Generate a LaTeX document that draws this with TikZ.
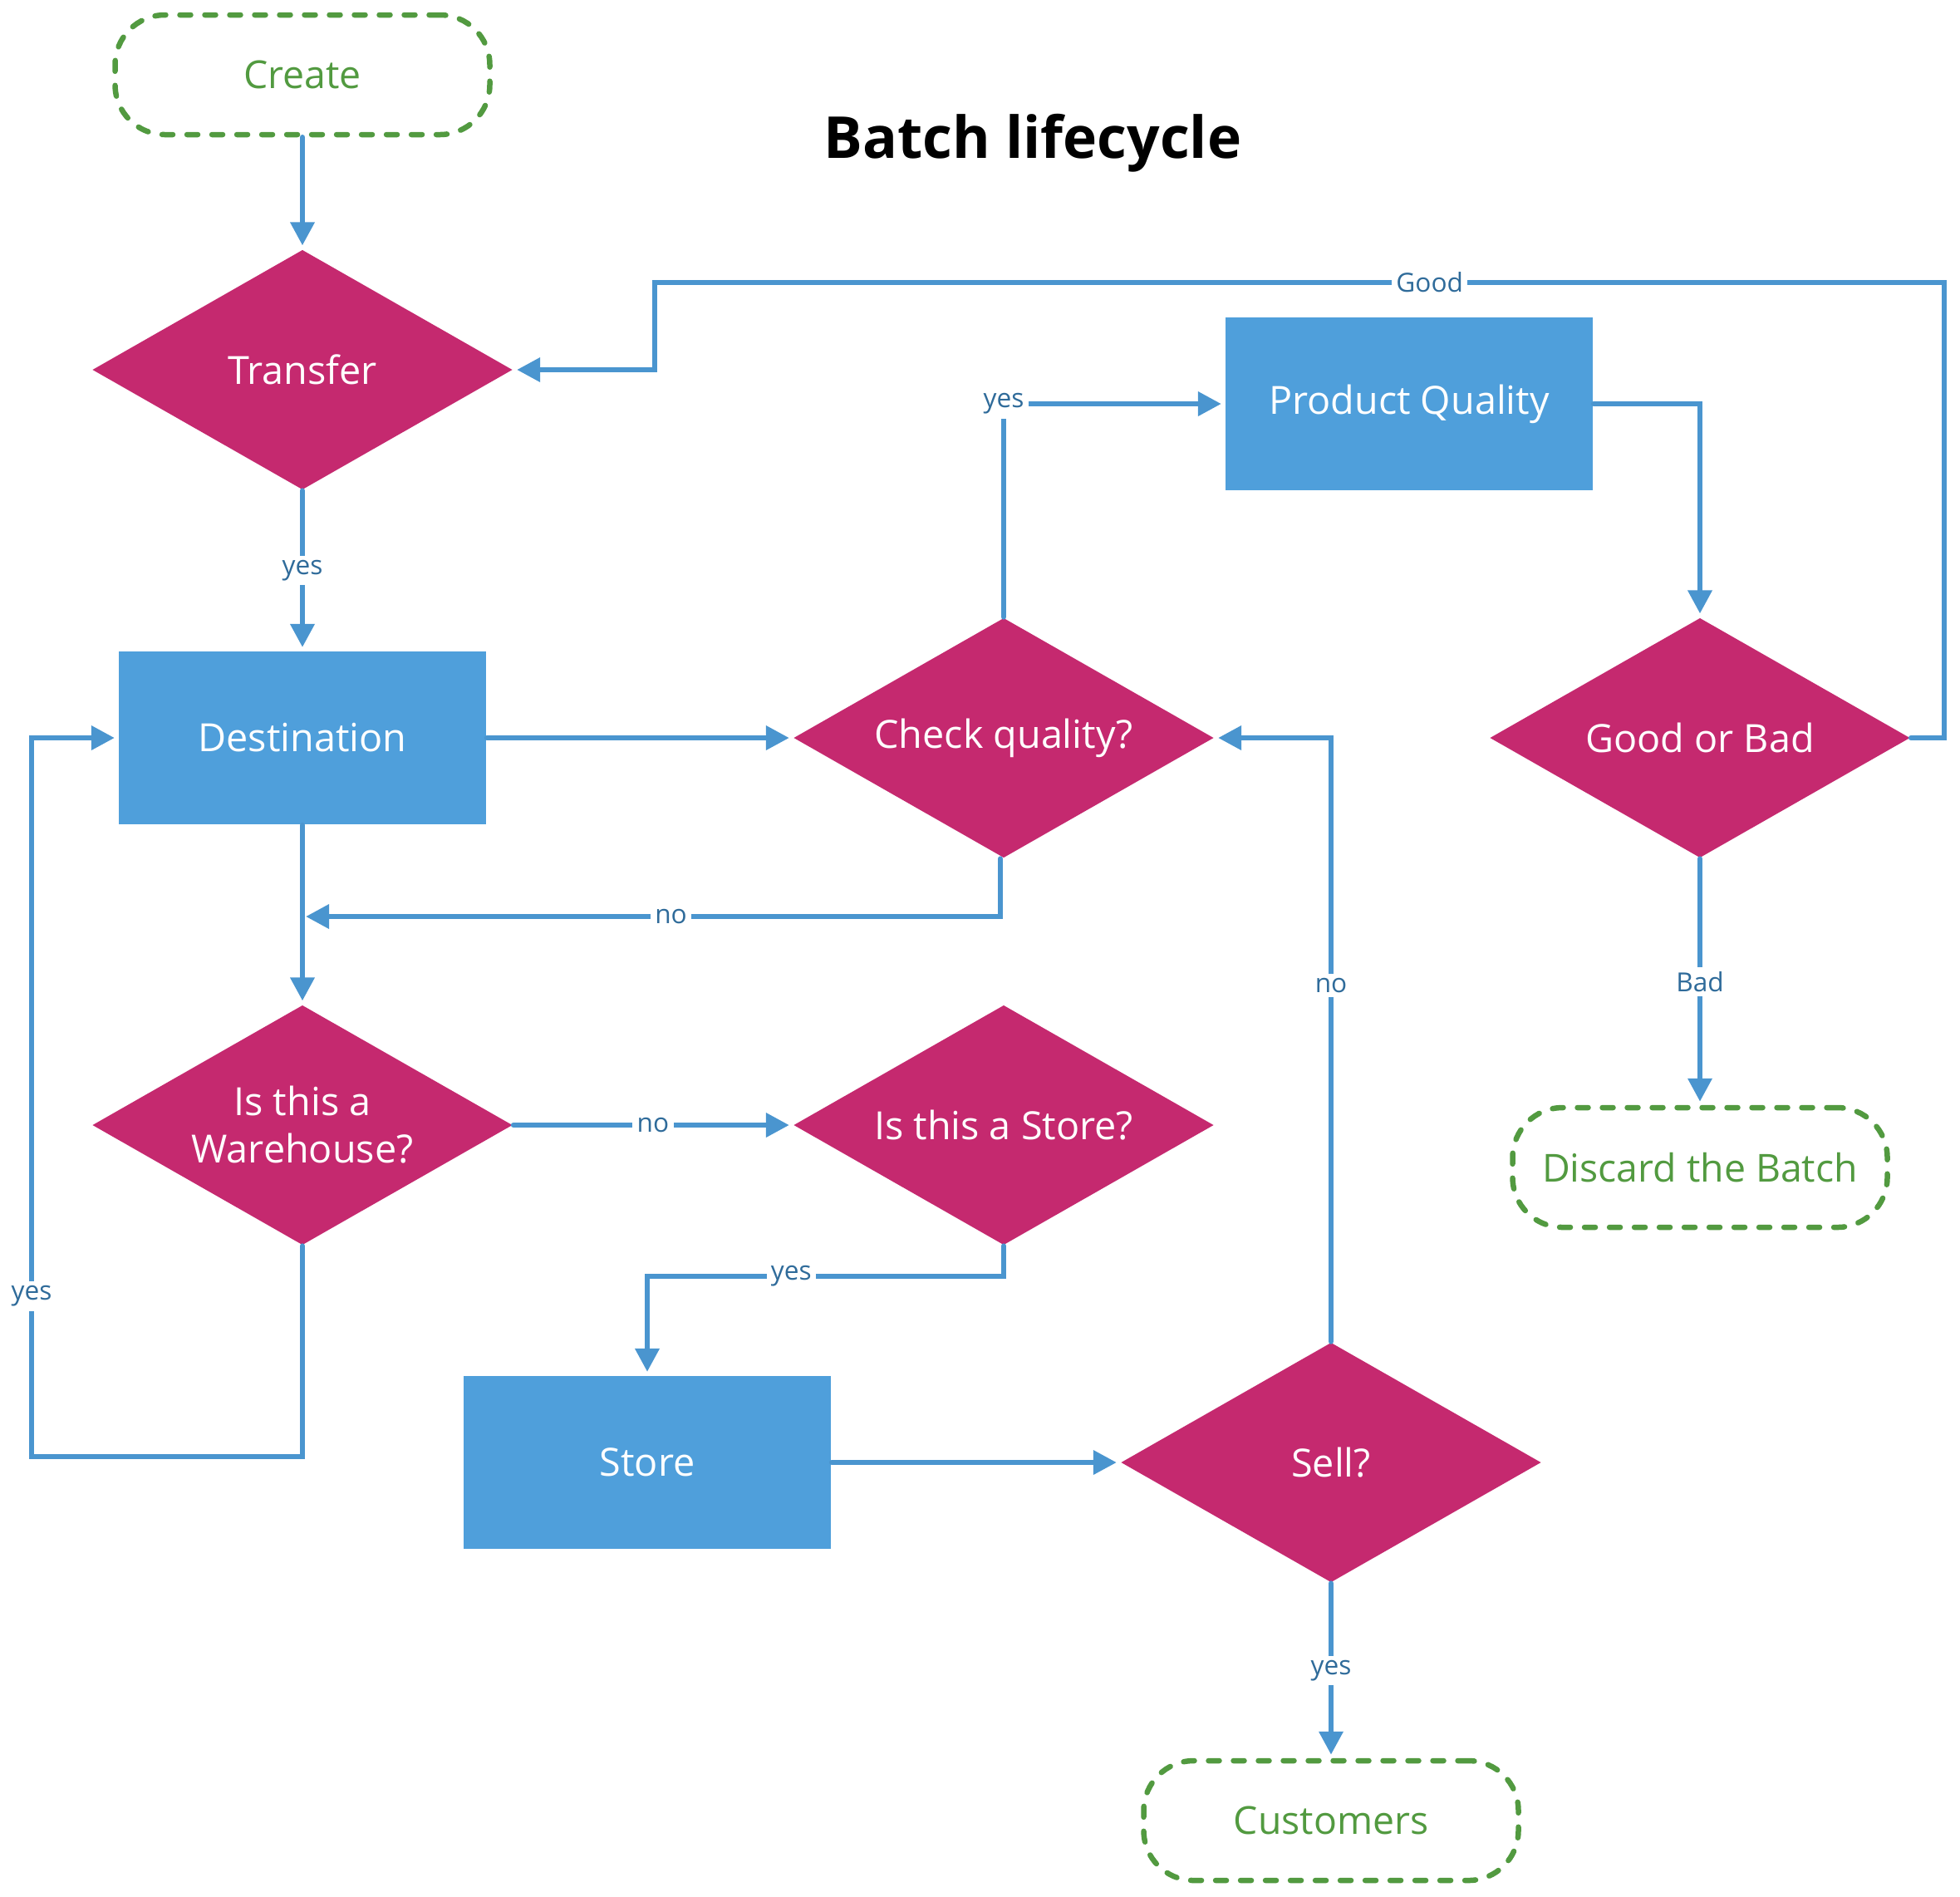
\documentclass[tikz,border=0pt]{standalone}
\usepackage{fontspec}
\setmainfont{Open Sans}
\usetikzlibrary{shapes.geometric,arrows.meta}
\definecolor{lineblue}{HTML}{4A95CF}
\definecolor{boxblue}{HTML}{4F9FDB}
\definecolor{decmag}{HTML}{C5296F}
\definecolor{termgreen}{HTML}{529A40}
\definecolor{lblblue}{HTML}{2F6B9A}

\begin{document}
\begin{tikzpicture}[semithick,
term/.style = {rectangle, rounded corners = 0.6cm, draw = termgreen, line width = 0.065cm,
dash pattern = on 0.13cm off 0.17cm, line cap = round, text = termgreen,
minimum width = 4.51cm, minimum height = 1.44cm, font = \fontsize{13.2}{16}\selectfont},
process/.style = {rectangle, fill = boxblue, text = white, minimum width = 4.42cm,
minimum height = 2.08cm, font = \fontsize{13.3}{16}\selectfont},
decision/.style = {diamond, fill = decmag, text = white, minimum width = 5.06cm,
minimum height = 2.89cm, aspect = 1.75, inner sep = 0pt, align = center,
font = \fontsize{13.3}{16.2}\selectfont},
link/.style = {draw = lineblue, line width = 0.065cm, line cap = round,
-{Triangle[length = 0.28cm, width = 0.28cm]}, shorten >= 0.04cm},
lbl/.style = {fill = white, text = lblblue, inner sep = 1.5pt, font = \fontsize{9}{11}\selectfont}]
\useasboundingbox (0,0) rectangle (23.59,-22.82);
\node[term] (create) at (3.64,-0.90) {Create};
\node[font = \bfseries\fontsize{19.8}{24}\selectfont] (title) at (12.43,-1.72) {Batch lifecycle};
\node[decision] (transfer) at (3.64,-4.45) {Transfer};
\node[process] (dest) at (3.64,-8.88) {Destination};
\node[decision] (check) at (12.08,-8.88) {Check quality?};
\node[process] (pq) at (16.96,-4.86) {Product Quality};
\node[decision] (gob) at (20.46,-8.88) {Good or Bad};
\node[term] (discard) at (20.46,-14.05) {Discard the Batch};
\node[decision] (wh) at (3.64,-13.54) {Is this a\\Warehouse?};
\node[decision] (sq) at (12.08,-13.54) {Is this a Store?};
\node[process] (store) at (7.79,-17.60) {Store};
\node[decision] (sell) at (16.02,-17.60) {Sell?};
\node[term] (cust) at (16.02,-21.91) {Customers};
\coordinate (nojoin) at (3.64,-11.03);
\coordinate (gr) at (23.40,-3.40);
\coordinate (gl) at (7.88,-3.40);
\coordinate (wl) at (0.38,-17.53);
\coordinate (wtop) at (0.38,-8.88);
\coordinate (sj) at (7.79,-15.36);
\draw[link] (create) -- (transfer);
\draw[link] (transfer) -- node[lbl] {yes} (dest);
\draw[link] (dest) -- (check);
\draw[link] (dest) -- (wh);
\draw[link] ([xshift = -0.04cm]check.south) |- node[lbl, pos = 0.736] {no} (nojoin);
\draw[link] (check.north) |- node[lbl, pos = 0.5] {yes} (pq.west);
\draw[link] (pq.east) -| (gob.north);
\draw[link] (gob.east) -| (gr) -- node[lbl, pos = 0.399] {Good} (gl) |- (transfer.east);
\draw[link] (gob) -- node[lbl] {Bad} (discard);
\draw[link] (wh) -- node[lbl] {no} (sq);
\draw[link] (wh.south) |- (wl) -- node[lbl, pos = 0.223] {yes} (wtop) -- (dest.west);
\draw[link] (sq.south) |- node[lbl, pos = 0.798] {yes} (sj) -- (store.north);
\draw[link] (store) -- (sell);
\draw[link] (sell.north) |- node[lbl, pos = 0.295] {no} (check.east);
\draw[link] (sell) -- node[lbl] {yes} (cust);
\end{tikzpicture}
\end{document}
